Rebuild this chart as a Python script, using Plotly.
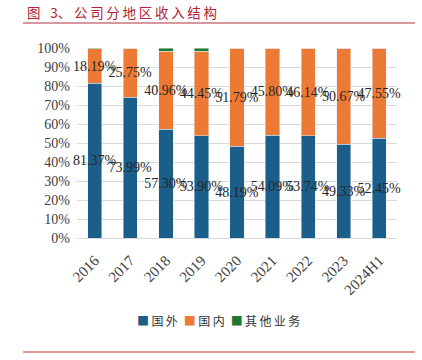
import plotly.graph_objects as go

categories = ["2016", "2017", "2018", "2019", "2020", "2021", "2022", "2023", "2024H1"]
overseas = [81.37, 73.99, 57.30, 53.90, 48.19, 54.09, 53.74, 49.33, 52.45]
domestic = [18.19, 25.75, 40.96, 44.45, 51.79, 45.80, 46.14, 50.67, 47.55]
other = [0.44, 0.26, 1.74, 1.65, 0.02, 0.11, 0.12, 0.00, 0.00]
series_names = ["国外", "国内", "其他业务"]
series_colors = ["#1B5E8A", "#EC7A34", "#1E7A2E"]
y_ticks = [0, 10, 20, 30, 40, 50, 60, 70, 80, 90, 100]
y_tick_labels = [f"{v}%" for v in y_ticks]

W, H = 422, 360
serif = "Liberation Serif, Times New Roman, serif"
cjk = "Noto Sans CJK SC"

fig = go.Figure()
label_font = dict(family=serif, size=14, color="#262626")
for name, vals, color, labeled in zip(series_names, [overseas, domestic, other],
                                      series_colors, [True, True, False]):
    fig.add_bar(name=name, x=categories, y=vals, marker_color=color,
                text=[f"{v:.2f}%" for v in vals] if labeled else None,
                textposition="inside" if labeled else "none",
                insidetextanchor="middle", textangle=0, constraintext="none",
                cliponaxis=False, insidetextfont=label_font, hoverinfo="skip",
                showlegend=False)

# legend drawn as a single line of text with coloured squares
legend_text = "\u2002".join(
    f'<span style="color:{c}">■</span>\u2009' + "\u2009".join(n)
    for n, c in zip(series_names, series_colors))

fig.update_layout(
    barmode="stack", bargap=0.6,
    width=W, height=H, margin=dict(l=0, r=0, t=0, b=0, autoexpand=False),
    paper_bgcolor="white", plot_bgcolor="white",
    xaxis=dict(domain=[77 / W, 397 / W], tickangle=-45, automargin=False,
               tickfont=dict(family=serif, size=15, color="#404040"),
               ticklabelstandoff=7,
               showline=True, linecolor="#D9D9D9", ticks="", showgrid=False),
    yaxis=dict(domain=[(H - 238) / H, (H - 48) / H], range=[0, 100], automargin=False,
               tickvals=y_ticks, ticktext=y_tick_labels,
               tickfont=dict(family=serif, size=14, color="#404040"),
               showgrid=True, gridcolor="#D9D9D9", gridwidth=1,
               zeroline=False, ticks="", ticklabelstandoff=6),
    annotations=[
        dict(text="图\u2002 3、\u2009公\u2009司\u2009分\u2009地\u2009区\u2009收\u2009入\u2009结\u2009构",
             xref="paper", yref="paper", x=25 / W, y=1 - 12 / H,
             xanchor="left", yanchor="middle", showarrow=False,
             font=dict(family=cjk, size=13.5, color="#B22234")),
        dict(text=legend_text, xref="paper", yref="paper",
             x=218.5 / W, y=1 - 320 / H, xanchor="center", yanchor="middle",
             showarrow=False, font=dict(family=cjk, size=12, color="#333333")),
    ],
    shapes=[
        dict(type="line", xref="paper", yref="paper", x0=23 / W, x1=415 / W,
             y0=1 - 23 / H, y1=1 - 23 / H, line=dict(color="#B03040", width=1.2)),
        dict(type="line", xref="paper", yref="paper", x0=23 / W, x1=415 / W,
             y0=1 - 352 / H, y1=1 - 352 / H, line=dict(color="#C0392B", width=1.2)),
    ],
)

fig.write_html("out.html", config={"displayModeBar": False},
               post_script="document.body.style.margin='0';document.body.style.overflow='hidden';")
